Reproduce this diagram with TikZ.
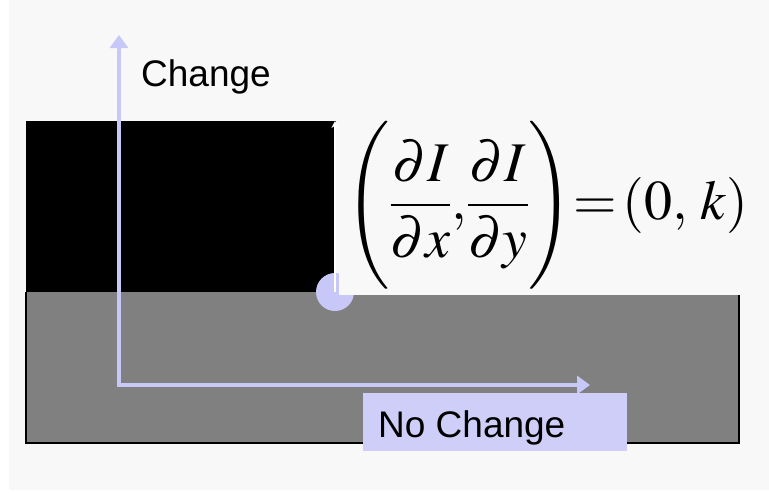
\documentclass[tikz,border=0pt]{standalone}
\usepackage{mathptmx}
\usepackage[no-math]{fontspec}
\setsansfont{Liberation Sans}
\usetikzlibrary{arrows.meta}
\definecolor{bg}{RGB}{248,248,248}
\definecolor{lav}{RGB}{200,200,248}
\definecolor{lavbox}{RGB}{206,206,248}
\definecolor{midgray}{RGB}{128,128,128}
\begin{document}
\begin{tikzpicture}[x=1pt,y=-1pt,
  axis/.style={draw=lav,line width=4pt,line join=miter,
    {Triangle[length=13pt,width=18pt]}-{Triangle[length=13pt,width=18pt]}},
  lbl/.style={font=\sffamily\fontsize{37}{40}\selectfont,inner sep=0pt,anchor=base west},
  formula/.style={font=\fontsize{56}{60}\selectfont,inner sep=0pt,anchor=west}]
\useasboundingbox (0,0) rectangle (769,493);
\fill[white] (0,0) rectangle (769,493);
\fill[bg] (9,0) rectangle (769,490);
% regions
\fill[midgray] (26,292) rectangle (739,443);
\draw[line width=2pt] (26,292) -- (26,443) -- (739,443) -- (739,295);
\fill[black] (26,121) rectangle (336,292);
% point
\node[circle,fill=lav,minimum size=38pt,inner sep=0pt] (dot) at (335,292) {};
% formula backdrop
\fill[bg] (338.5,100) rectangle (769,294.5);
\coordinate (gtip) at (335,121);
\draw[white,line width=2pt,-{Stealth[length=7pt,width=7pt]}] (dot.center) -- (gtip);
\node[formula] (eq) at (345,205)
  {$\displaystyle\left(\rule[-60pt]{0pt}{150pt}\frac{\partial I}{\partial x},\!\frac{\partial I}{\partial y}\right)\!{=}\,(0,\,k)$};
% axes
\coordinate (o) at (119,385);
\coordinate (ytip) at (119,35);
\coordinate (xtip) at (590,385);
\draw[axis] (ytip) -- (o) -- (xtip);
\node[lbl] (change) at (141,86) {Change};
\fill[lavbox] (363,393) rectangle (627,451);
\node[lbl] (nochange) at (378,437) {No Change};
\end{tikzpicture}
\end{document}
